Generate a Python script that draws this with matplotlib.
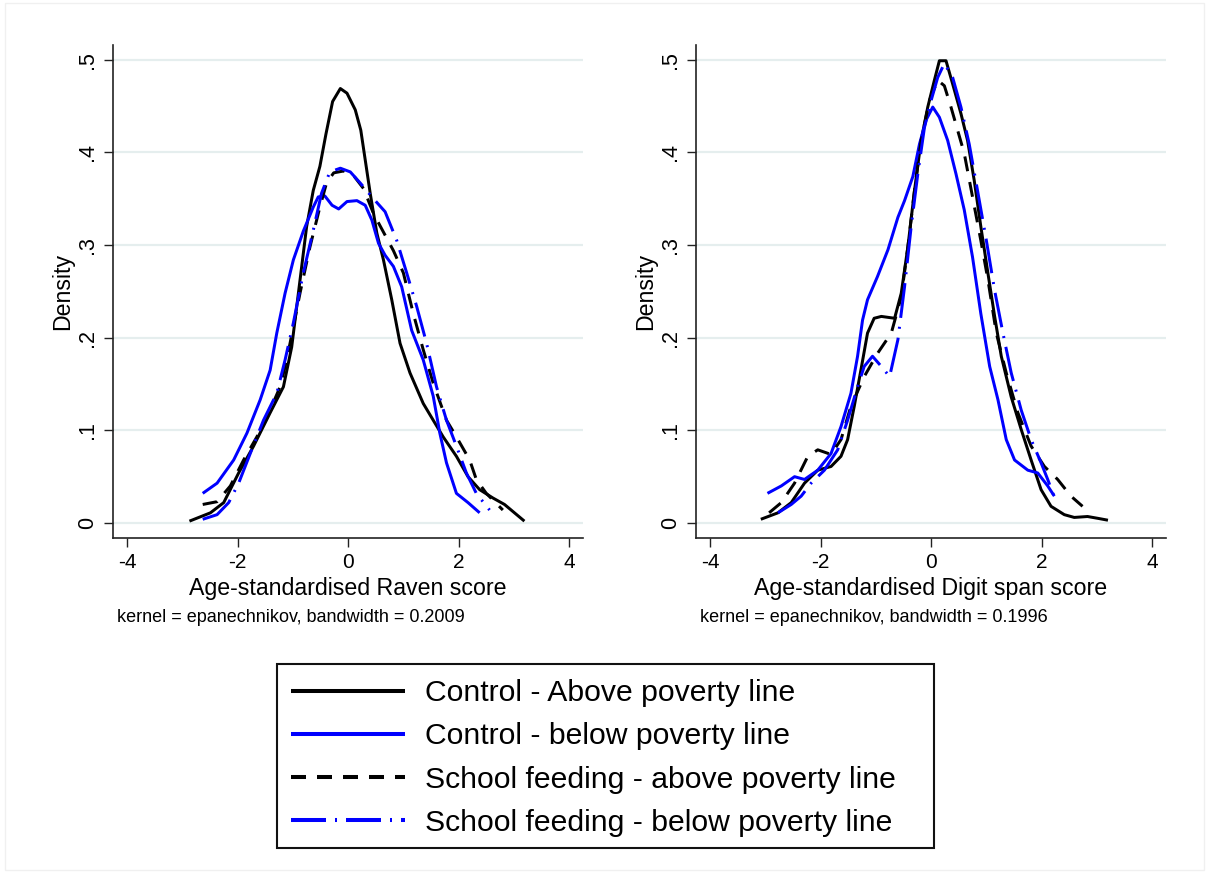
import matplotlib
matplotlib.use("Agg")
import matplotlib.pyplot as plt
from matplotlib.lines import Line2D
from matplotlib.patches import Rectangle

plt.rcParams['font.family'] = ['Liberation Sans', 'DejaVu Sans']

# ---------------- data ----------------
# Left panel: Age-standardised Raven score
raven_ctrl_above_x = [-2.87, -2.49, -2.25, -1.98, -1.71, -1.41, -1.17, -1.02, -0.87, -0.75, -0.63, -0.51, -0.40, -0.28, -0.14, -0.02, 0.13, 0.23, 0.31, 0.40, 0.52, 0.64, 0.79, 0.94, 1.12, 1.36, 1.54, 1.72, 1.96, 2.17, 2.38, 2.62, 2.83, 3.01, 3.19]
raven_ctrl_above_y = [0.002, 0.011, 0.022, 0.054, 0.083, 0.119, 0.147, 0.190, 0.262, 0.320, 0.359, 0.385, 0.420, 0.455, 0.469, 0.464, 0.446, 0.424, 0.392, 0.356, 0.313, 0.284, 0.241, 0.194, 0.162, 0.129, 0.111, 0.093, 0.072, 0.050, 0.036, 0.027, 0.020, 0.011, 0.002]

raven_ctrl_below_x = [-2.63, -2.37, -2.07, -1.83, -1.59, -1.41, -1.29, -1.14, -0.99, -0.81, -0.63, -0.54, -0.42, -0.29, -0.17, -0.02, 0.16, 0.31, 0.43, 0.55, 0.67, 0.82, 0.97, 1.15, 1.36, 1.54, 1.66, 1.78, 1.96, 2.17, 2.38]
raven_ctrl_below_y = [0.032, 0.043, 0.068, 0.097, 0.133, 0.165, 0.205, 0.248, 0.284, 0.315, 0.341, 0.352, 0.353, 0.343, 0.339, 0.347, 0.348, 0.343, 0.327, 0.302, 0.289, 0.277, 0.255, 0.208, 0.176, 0.137, 0.097, 0.065, 0.032, 0.022, 0.011]

raven_sf_above_x = [-2.63, -2.37, -2.13, -1.89, -1.65, -1.41, -1.23, -1.11, -0.99, -0.87, -0.69, -0.51, -0.39, -0.26, -0.08, 0.10, 0.28, 0.46, 0.64, 0.82, 1.00, 1.18, 1.36, 1.54, 1.78, 1.96, 2.20, 2.32, 2.50, 2.80]
raven_sf_above_y = [0.020, 0.023, 0.040, 0.068, 0.093, 0.122, 0.147, 0.176, 0.212, 0.248, 0.298, 0.341, 0.367, 0.378, 0.380, 0.375, 0.361, 0.334, 0.314, 0.294, 0.270, 0.226, 0.187, 0.151, 0.111, 0.093, 0.068, 0.047, 0.032, 0.014]

raven_sf_below_x = [-2.63, -2.37, -2.16, -1.98, -1.77, -1.53, -1.29, -1.14, -0.99, -0.81, -0.63, -0.48, -0.33, -0.14, 0.04, 0.22, 0.46, 0.67, 0.88, 1.06, 1.24, 1.42, 1.60, 1.78, 1.96, 2.14, 2.32, 2.56]
raven_sf_below_y = [0.004, 0.009, 0.022, 0.043, 0.075, 0.111, 0.140, 0.176, 0.216, 0.270, 0.316, 0.356, 0.379, 0.383, 0.379, 0.367, 0.350, 0.336, 0.305, 0.270, 0.234, 0.194, 0.147, 0.111, 0.083, 0.054, 0.032, 0.014]

# Right panel: Age-standardised Digit span score
digit_ctrl_above_x = [-3.08, -2.77, -2.53, -2.29, -2.05, -1.81, -1.63, -1.51, -1.39, -1.27, -1.15, -1.03, -0.90, -0.66, -0.54, -0.42, -0.30, -0.18, -0.06, 0.06, 0.15, 0.27, 0.39, 0.54, 0.66, 0.78, 0.90, 1.03, 1.15, 1.27, 1.45, 1.63, 1.81, 1.99, 2.17, 2.41, 2.59, 2.83, 3.02, 3.20]
digit_ctrl_above_y = [0.004, 0.011, 0.022, 0.043, 0.057, 0.061, 0.072, 0.090, 0.126, 0.165, 0.205, 0.221, 0.223, 0.221, 0.248, 0.298, 0.359, 0.413, 0.449, 0.478, 0.499, 0.499, 0.474, 0.442, 0.413, 0.370, 0.320, 0.269, 0.223, 0.180, 0.136, 0.101, 0.068, 0.036, 0.018, 0.009, 0.006, 0.007, 0.005, 0.003]

digit_ctrl_below_x = [-2.96, -2.71, -2.47, -2.29, -2.05, -1.81, -1.63, -1.45, -1.33, -1.24, -1.15, -0.97, -0.78, -0.60, -0.48, -0.33, -0.21, -0.09, 0.03, 0.15, 0.30, 0.45, 0.60, 0.75, 0.90, 1.06, 1.21, 1.36, 1.51, 1.75, 1.93, 2.11, 2.23]
digit_ctrl_below_y = [0.032, 0.040, 0.050, 0.047, 0.057, 0.075, 0.104, 0.140, 0.180, 0.219, 0.241, 0.266, 0.295, 0.330, 0.348, 0.374, 0.409, 0.435, 0.449, 0.438, 0.413, 0.377, 0.338, 0.287, 0.226, 0.169, 0.133, 0.090, 0.068, 0.057, 0.054, 0.040, 0.029]

digit_sf_above_x = [-2.93, -2.71, -2.47, -2.23, -2.05, -1.81, -1.63, -1.45, -1.21, -0.97, -0.72, -0.54, -0.42, -0.30, -0.18, -0.03, 0.12, 0.24, 0.36, 0.48, 0.60, 0.75, 0.90, 1.03, 1.18, 1.36, 1.57, 1.81, 2.05, 2.29, 2.53, 2.74]
digit_sf_above_y = [0.011, 0.022, 0.043, 0.072, 0.079, 0.074, 0.090, 0.126, 0.158, 0.183, 0.205, 0.244, 0.298, 0.359, 0.413, 0.456, 0.478, 0.472, 0.449, 0.424, 0.399, 0.352, 0.305, 0.262, 0.205, 0.162, 0.119, 0.083, 0.061, 0.047, 0.029, 0.018]

digit_sf_below_x = [-2.77, -2.53, -2.35, -2.17, -1.93, -1.69, -1.51, -1.33, -1.21, -1.06, -0.90, -0.75, -0.60, -0.48, -0.36, -0.24, -0.12, 0.00, 0.12, 0.24, 0.39, 0.54, 0.69, 0.84, 1.00, 1.15, 1.30, 1.45, 1.63, 1.81, 1.99, 2.11, 2.26]
digit_sf_below_y = [0.011, 0.020, 0.029, 0.043, 0.057, 0.079, 0.111, 0.147, 0.169, 0.180, 0.169, 0.158, 0.198, 0.255, 0.320, 0.377, 0.427, 0.456, 0.481, 0.496, 0.481, 0.449, 0.409, 0.359, 0.305, 0.251, 0.205, 0.162, 0.122, 0.090, 0.065, 0.047, 0.023]

x_ticks = [-4, -2, 0, 2, 4]
x_tick_labels = ['-4', '-2', '0', '2', '4']
y_ticks = [0, 0.1, 0.2, 0.3, 0.4, 0.5]
y_tick_labels = ['0', '.1', '.2', '.3', '.4', '.5']

series_labels = ['Control - Above poverty line', 'Control - below poverty line',
                 'School feeding - above poverty line', 'School feeding - below poverty line']
xlabels = ['Age-standardised Raven score', 'Age-standardised Digit span score']
notes = ['kernel = epanechnikov, bandwidth = 0.2009', 'kernel = epanechnikov, bandwidth = 0.1996']

panels = [
    [(raven_ctrl_above_x, raven_ctrl_above_y), (raven_ctrl_below_x, raven_ctrl_below_y),
     (raven_sf_above_x, raven_sf_above_y), (raven_sf_below_x, raven_sf_below_y)],
    [(digit_ctrl_above_x, digit_ctrl_above_y), (digit_ctrl_below_x, digit_ctrl_below_y),
     (digit_sf_above_x, digit_sf_above_y), (digit_sf_below_x, digit_sf_below_y)],
]

# ---------------- styling ----------------
W, H = 1209, 873
LW = 2.15          # plot lines (~3 px)
LEG_LW = 2.9       # legend handles (~4 px)
colors = ['black', '#0000ff', 'black', '#0000ff']
# dash patterns in pixels (absolute), converted to linewidth units below
dash_px = [None, None, (15, 11), (35, 9, 2, 9)]


def ls_for(i, lw_pt):
    if dash_px[i] is None:
        return '-'
    lw_px = lw_pt * 100 / 72
    return (0, tuple(d / lw_px for d in dash_px[i]))


fig = plt.figure(figsize=(W / 100, H / 100), dpi=100)
fig.patch.set_facecolor('white')
fig.add_artist(Rectangle((5 / W, 3 / H), (W - 10) / W, (H - 6) / H, transform=fig.transFigure,
                         fill=False, edgecolor='#f0f0f0', linewidth=1))

axes_px = [(113, 45, 583, 538), (696, 45, 1166, 538)]
spine_col = '#222222'

for i, (x0, y0, x1, y1) in enumerate(axes_px):
    ax = fig.add_axes([x0 / W, (H - y1) / H, (x1 - x0) / W, (y1 - y0) / H])
    for k, (xs, ys) in enumerate(panels[i]):
        ax.plot(xs, ys, linewidth=LW, color=colors[k], linestyle=ls_for(k, LW),
                solid_capstyle='butt', dash_capstyle='butt')
    ax.set_xlim(-4.253, 4.25)
    ax.set_ylim(-0.0162, 0.516)
    ax.set_xticks(x_ticks)
    ax.set_xticklabels(x_tick_labels, fontsize=15)
    ax.set_yticks(y_ticks)
    ax.set_yticklabels(y_tick_labels, fontsize=15.5, rotation=90, va='center')
    ax.tick_params(axis='both', direction='out', length=6.5, width=1.0, color=spine_col, pad=4)
    for s in ['top', 'right']:
        ax.spines[s].set_visible(False)
    for s in ['left', 'bottom']:
        ax.spines[s].set_color(spine_col)
        ax.spines[s].set_linewidth(1.2)
    ax.yaxis.grid(True, color='#e5eeee', linewidth=1.6)
    ax.set_axisbelow(True)
    ax.set_xlabel(xlabels[i], fontsize=16.7)
    ax.xaxis.label.set_va('center')
    ax.xaxis.set_label_coords(0.5, (y1 - 588) / (y1 - y0))
    ax.set_ylabel('Density', fontsize=16.7)
    ax.yaxis.label.set_va('center')
    ax.yaxis.set_label_coords(-50 / (x1 - x0), 0.5)
    fig.text((x0 + 4) / W, (H - 617) / H, notes[i], fontsize=13, ha='left', va='center')

# legend: frame drawn explicitly, entries placed inside it
lx0, ly0, lx1, ly1 = 277, 664, 934, 848
fig.add_artist(Rectangle((lx0 / W, (H - ly1) / H), (lx1 - lx0) / W, (ly1 - ly0) / H,
                         transform=fig.transFigure, fill=False, edgecolor='#111111', linewidth=1.5))
handles = [Line2D([0], [0], linewidth=LEG_LW, color=colors[k], linestyle=ls_for(k, LEG_LW),
                  solid_capstyle='butt', dash_capstyle='butt') for k in range(4)]
LEG_FS = 21.7
fs_px = LEG_FS * 100 / 72
leg = fig.legend(handles, series_labels, loc='center left', bbox_to_anchor=(291 / W, (H - 758) / H),
                 fontsize=LEG_FS, frameon=False, borderpad=0, borderaxespad=0,
                 handlelength=114 / fs_px, handletextpad=20 / fs_px, labelspacing=0.5)

fig.savefig('out.png', dpi=100, facecolor='white')
